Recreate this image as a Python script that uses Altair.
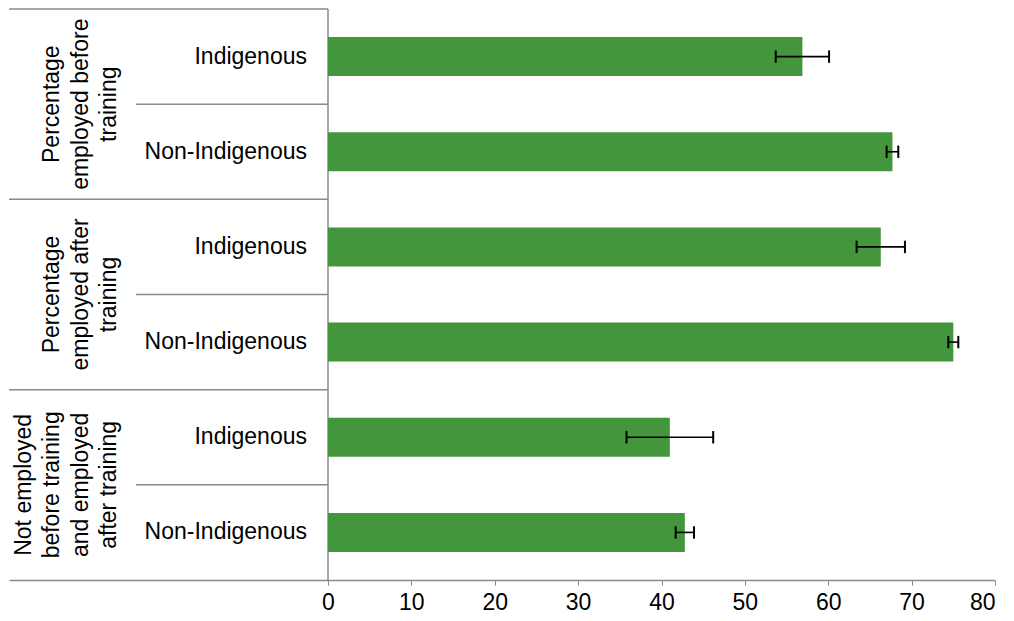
import altair as alt
import pandas as pd

# ---- data ----
groups = [
    "Percentage\nemployed before\ntraining",
    "Percentage\nemployed after\ntraining",
    "Not employed\nbefore training\nand employed\nafter training",
]
populations = ["Indigenous", "Non-Indigenous"]
values = [56.9, 67.7, 66.3, 75.0, 41.0, 42.8]
errors = [3.2, 0.7, 2.9, 0.6, 5.2, 1.1]
tick_values = [0, 10, 20, 30, 40, 50, 60, 70, 80]

# ---- layout helpers ----
PPU = (994 - 327) / 80.0          # pixels per unit
X_MIN = -(327 - 8) / PPU          # left edge of the plot area
X_MAX = 80
W, H = 986, 571
GREEN = "#43963b"
GRAY = "#8a8a8a"
FONT = "Liberation Sans"
FS = 23
LINE_STEP = 28.5 / PPU            # spacing of the rotated group-label lines


def px(p):
    return (p - 327) / PPU


rows = []
i = 0
for g in groups:
    for p in populations:
        rows.append({"group": g, "pop": p, "row": i + 0.5, "value": values[i],
                     "lo": values[i] - errors[i], "hi": values[i] + errors[i]})
        i += 1
df = pd.DataFrame(rows)

glines = []
for gi, g in enumerate(groups):
    parts = g.split("\n")
    for k, t in enumerate(parts):
        glines.append({"text": t, "grow": 2.0 * gi + 1.0, "back": len(parts) - 1 - k})
gdf = pd.DataFrame(glines)

inner = pd.DataFrame({"y": [1.0, 3.0, 5.0]})
outer = pd.DataFrame({"y": [0.0, 2.0, 4.0]})
vline = pd.DataFrame({"y": [0.0], "y2": [6.0]})

xscale = alt.Scale(domain=[X_MIN, X_MAX], nice=False, zero=False)
yscale = alt.Scale(domain=[0, 6], reverse=True, nice=False, zero=False)
xaxis = alt.Axis(values=tick_values, grid=False, title=None, domainColor=GRAY,
                 tickColor=GRAY, tickSize=5, labelFontSize=FS, labelFont=FONT,
                 labelColor="black", labelPadding=6, domainWidth=1.5)


def X(field):
    return alt.X(field, type="quantitative", scale=xscale, axis=xaxis)


def Y(field):
    return alt.Y(field, type="quantitative", scale=yscale, axis=None)


base = alt.Chart(df)

bars = base.transform_calculate(
    y0="datum.row - 0.205", y1="datum.row + 0.205", x0="0"
).mark_rect(color=GREEN).encode(
    x=X("x0"), x2="value:Q", y=Y("y0"), y2="y1:Q")

err = base.mark_rule(color="black", strokeWidth=1.6).encode(
    x=X("lo"), x2="hi:Q", y=Y("row"))

caps = base.transform_fold(["lo", "hi"], as_=["side", "xv"]).transform_calculate(
    c0="datum.row - 0.065", c1="datum.row + 0.065"
).mark_rule(color="black", strokeWidth=2).encode(
    x=X("xv"), y=Y("c0"), y2="c1:Q")

pop_labels = base.transform_calculate(lx=str(px(306))).mark_text(
    align="right", baseline="middle", fontSize=FS, font=FONT, color="black"
).encode(x=X("lx"), y=Y("row"), text="pop:N")

group_labels = alt.Chart(gdf).transform_calculate(
    gx=f"{px(108)} - datum.back * {LINE_STEP}"
).mark_text(
    align="center", baseline="middle", angle=270, fontSize=FS, font=FONT,
    color="black"
).encode(x=X("gx"), y=Y("grow"), text="text:N")

inner_lines = alt.Chart(inner).transform_calculate(
    xa=str(px(135)), xb="0"
).mark_rule(color=GRAY, strokeWidth=1.5).encode(x=X("xa"), x2="xb:Q", y=Y("y"))

outer_lines = alt.Chart(outer).transform_calculate(
    xa=str(X_MIN), xb="0"
).mark_rule(color=GRAY, strokeWidth=1.5).encode(x=X("xa"), x2="xb:Q", y=Y("y"))

vaxis = alt.Chart(vline).transform_calculate(xa="0").mark_rule(
    color=GRAY, strokeWidth=1.5
).encode(x=X("xa"), y=Y("y"), y2="y2:Q")

chart = alt.layer(
    outer_lines, inner_lines, vaxis, bars, err, caps, pop_labels, group_labels
).properties(width=W, height=H, padding=0).configure_view(stroke=None)

chart.save("out.html", embed_options={"renderer": "svg", "actions": False})
